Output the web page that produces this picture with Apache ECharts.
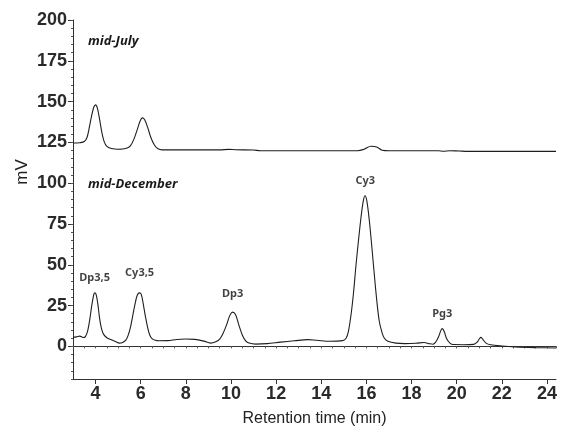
<!DOCTYPE html>
<html>
<head>
<meta charset="utf-8">
<script src="https://cdn.jsdelivr.net/npm/echarts@6/dist/echarts.min.js"></script>
<style>
  html, body { margin: 0; padding: 0; background: #fff; }
  #chart { width: 562px; height: 426px; }
</style>
</head>
<body>
<div id="chart"></div>
<script>
// mid-December chromatogram (retention time in min, signal in mV)
const decTime = [3.0, 3.15, 3.3, 3.45, 3.55, 3.65, 3.75, 3.82, 3.9, 3.96, 4.02, 4.1, 4.18, 4.26, 4.35, 4.5, 4.7, 4.9, 5.05, 5.2,
  5.35, 5.45, 5.55, 5.65, 5.75, 5.85, 5.95, 6.02, 6.1, 6.2, 6.3, 6.4, 6.5, 6.65, 6.8, 7.2, 7.6, 8.0, 8.4, 8.8,
  9.1, 9.3, 9.5, 9.65, 9.8, 9.95, 10.07, 10.2, 10.35, 10.5, 10.65, 10.8, 11.1, 11.6, 12.2, 12.8, 13.4, 13.8, 14.4, 14.95,
  15.1, 15.2, 15.32, 15.43, 15.54, 15.65, 15.76, 15.86, 15.94, 16.02, 16.13, 16.24, 16.35, 16.46, 16.57, 16.68, 16.79, 16.95, 17.31, 17.7,
  18.2, 18.55, 18.8, 18.95, 19.08, 19.2, 19.3, 19.36, 19.45, 19.55, 19.7, 19.85, 20.3, 20.75, 20.9, 21.0, 21.07, 21.15, 21.3, 21.5,
  22.0, 22.6, 23.5, 24.4]
const decMv = [5.5, 5.8, 6.3, 5.4, 6.0, 9.5, 17, 24, 30.5, 32.8, 32, 26, 17, 11, 7.5, 5.3, 4.0, 2.8, 2.0, 2.4,
  4.0, 7, 12, 19, 26, 31.5, 32.8, 32, 27, 19, 12, 7, 4.8, 3.7, 3.4, 3.5, 4.2, 4.5, 4.3, 3.2,
  2.0, 2.6, 4.5, 8, 13, 19, 21, 19.5, 13, 7, 3.4, 2.0, 1.4, 1.7, 2.6, 3.4, 4.1, 3.7, 3.1, 3.5,
  5, 9, 19.5, 33, 50, 65, 79, 89, 92.3, 89, 77, 61, 44, 28, 15.4, 9, 5.1, 3.2, 2.0, 1.7,
  1.9, 2.4, 1.6, 1.3, 2.8, 6, 9.8, 10.9, 9, 4.8, 2, 1.1, 1.0, 1.2, 2.5, 4.5, 5.5, 4.5, 2.0, 1.0,
  0.2, -0.4, -0.8, -1.0]

// mid-July chromatogram (offset trace)
const julyTime = [3.0, 3.3, 3.5, 3.62, 3.72, 3.82, 3.92, 4.0, 4.08, 4.18, 4.28, 4.38, 4.5, 4.7, 5.0, 5.2, 5.4, 5.55, 5.7, 5.85,
  5.97, 6.07, 6.17, 6.3, 6.45, 6.6, 6.75, 6.95, 8.0, 9.5, 9.9, 10.2, 11.0, 11.3, 15.6, 15.9, 16.2, 16.45, 16.7, 17.0,
  19.2, 19.4, 19.7, 20.1, 20.5, 24.4]
const julyMv = [124.6, 124.8, 125.5, 128, 134, 141, 146.5, 148, 146, 139, 131, 125.5, 122.5, 121.3, 120.8, 120.9, 121.5, 123, 127, 133,
  138, 140, 139, 134.5, 128, 123.5, 121.2, 120.4, 120.4, 120.4, 120.7, 120.5, 120.3, 119.9, 119.9, 120.8, 122.6, 122.2, 120.2, 119.9,
  119.9, 119.6, 119.9, 119.7, 119.5, 119.5]

// peak annotations: name, retention time, label level (mV)
const peakNames = ['Dp3,5', 'Cy3,5', 'Dp3', 'Cy3', 'Pg3']
const peakTimes = [3.96, 5.95, 10.07, 15.95, 19.36]
const peakLabelMv = [41.8, 44.9, 32, 101.5, 19.7]

// axis ticks
const yTickValues = [0, 25, 50, 75, 100, 125, 150, 175, 200]
const xTickValues = [4, 6, 8, 10, 12, 14, 16, 18, 20, 22, 24]

const zip = (xs, ys) => xs.map((x, i) => [x, ys[i]])

const chart = echarts.init(document.getElementById('chart'), null, { renderer: 'canvas' })

const tickFont = {
  fontFamily: 'Liberation Sans, Arial, sans-serif',
  fontSize: 18,
  fontWeight: 'bold',
  color: '#2a2a2a'
}

const option = {
  animation: false,
  backgroundColor: '#fff',
  grid: {
    left: 73,
    right: 6,
    top: 20,
    bottom: 47,
    containLabel: false,
    outerBoundsMode: 'none'
  },
  xAxis: [
    {
      type: 'value',
      min: 3,
      max: 24.4,
      position: 'bottom',
      name: 'Retention time (min)',
      nameLocation: 'middle',
      nameGap: 32,
      nameTextStyle: {
        fontFamily: 'Liberation Sans, Arial, sans-serif',
        fontSize: 16,
        color: '#222'
      },
      axisLine: { show: true, onZero: false, lineStyle: { color: '#333', width: 1 } },
      axisTick: { show: true, customValues: xTickValues, length: 5, lineStyle: { color: '#333' } },
      axisLabel: { show: true, customValues: xTickValues, margin: 6, ...tickFont },
      splitLine: { show: false }
    },
    {
      // minor ticks every 0.5 min
      type: 'value',
      min: 3,
      max: 24.4,
      interval: 0.5,
      position: 'bottom',
      axisLine: { show: false },
      axisTick: { show: true, length: 2, lineStyle: { color: '#555' } },
      axisLabel: { show: false },
      splitLine: { show: false }
    },
    {
      // top frame line
      type: 'value',
      min: 3,
      max: 24.4,
      position: 'top',
      axisLine: { show: true, lineStyle: { color: '#333', width: 1 } },
      axisTick: { show: false },
      axisLabel: { show: false },
      splitLine: { show: false }
    }
  ],
  yAxis: [
    {
      type: 'value',
      min: -20,
      max: 200,
      position: 'left',
      axisLine: { show: true, onZero: false, lineStyle: { color: '#333', width: 1 } },
      axisTick: { show: true, customValues: yTickValues, length: 5, lineStyle: { color: '#333' } },
      axisLabel: { show: true, customValues: yTickValues, margin: 6, ...tickFont },
      splitLine: { show: false }
    },
    {
      // minor ticks every 5 mV
      type: 'value',
      min: -20,
      max: 200,
      interval: 5,
      position: 'left',
      axisLine: { show: false },
      axisTick: { show: true, length: 2, lineStyle: { color: '#555' } },
      axisLabel: { show: false },
      splitLine: { show: false }
    }
  ],
  graphic: [
    {
      type: 'text',
      left: 88,
      top: 35,
      style: {
        text: 'mid-July',
        font: 'italic bold 13px "Noto Sans", sans-serif',
        fill: '#1a1a1a'
      }
    },
    {
      type: 'text',
      left: 88,
      top: 178,
      style: {
        text: 'mid-December',
        font: 'italic bold 13px "Noto Sans", sans-serif',
        fill: '#1a1a1a'
      }
    },
    {
      type: 'text',
      x: 22,
      y: 172,
      rotation: Math.PI / 2,
      style: {
        text: 'mV',
        font: '17px "Liberation Sans", Arial, sans-serif',
        fill: '#222',
        align: 'center',
        verticalAlign: 'middle'
      }
    }
  ],
  series: [
    {
      name: 'mid-July',
      type: 'line',
      xAxisIndex: 0,
      yAxisIndex: 0,
      data: zip(julyTime, julyMv),
      smooth: 0.35,
      showSymbol: false,
      symbol: 'none',
      lineStyle: { color: '#1e1e1e', width: 1.1 }
    },
    {
      name: 'mid-December',
      type: 'line',
      xAxisIndex: 0,
      yAxisIndex: 0,
      data: zip(decTime, decMv),
      smooth: 0.35,
      showSymbol: false,
      symbol: 'none',
      lineStyle: { color: '#1e1e1e', width: 1.1 }
    },
    {
      name: 'peaks',
      type: 'scatter',
      xAxisIndex: 0,
      yAxisIndex: 0,
      symbolSize: 0,
      data: peakTimes.map((t, i) => ({ value: [t, peakLabelMv[i]], name: peakNames[i] })),
      label: {
        show: true,
        position: 'inside',
        formatter: p => p.name,
        fontFamily: 'Noto Sans, sans-serif',
        fontWeight: 'bold',
        fontSize: 11,
        color: '#111',
        textBorderWidth: 0
      },
      emphasis: { disabled: true },
      silent: true
    }
  ]
}

chart.setOption(option)
</script>
</body>
</html>
